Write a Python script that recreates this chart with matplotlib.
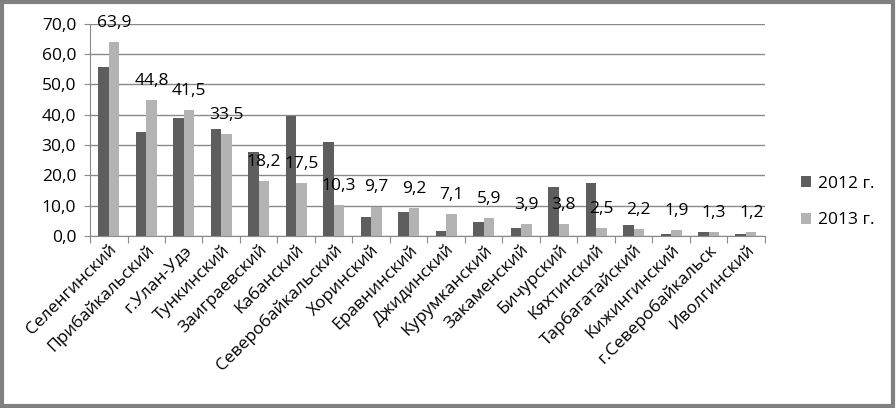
import numpy as np
import matplotlib.pyplot as plt
from matplotlib.patches import Rectangle

plt.rcParams['font.family'] = ['Open Sans', 'DejaVu Sans']

districts = ['Селенгинский', 'Прибайкальский', 'г.Улан-Удэ', 'Тункинский', 'Заиграевский',
             'Кабанский', 'Северобайкальский', 'Хоринский', 'Еравнинский', 'Джидинский',
             'Курумканский', 'Закаменский', 'Бичурский', 'Кяхтинский', 'Тарбагатайский',
             'Кижингинский', 'г.Северобайкальск', 'Иволгинский']
vals_2012 = [55.8, 34.2, 38.8, 35.2, 27.6, 39.5, 30.9, 6.3, 7.8, 1.7,
             4.7, 2.6, 16.0, 17.5, 3.7, 0.7, 1.3, 0.7]
vals_2013 = [63.9, 44.8, 41.5, 33.5, 18.2, 17.5, 10.3, 9.7, 9.2, 7.1,
             5.9, 3.9, 3.8, 2.5, 2.2, 1.9, 1.3, 1.2]
yticks = [0, 10, 20, 30, 40, 50, 60, 70]

dark = '#5e5e5e'
light = '#b3b3b3'
fs = 12.5

fig = plt.figure(figsize=(8.96, 4.08), dpi=100)
ax = fig.add_axes([0.1005, 0.4216, 0.753, 0.52])

x = np.arange(len(districts))
w = 0.28
ax.bar(x - w / 2, vals_2012, w, color=dark, label='2012 г.', zorder=3)
ax.bar(x + w / 2, vals_2013, w, color=light, label='2013 г.', zorder=3)

for xi, v in zip(x, vals_2013):
    ax.annotate(f'{v:.1f}'.replace('.', ','), (xi + w / 2, v), xytext=(0, 8),
                textcoords='offset points', ha='center', va='bottom',
                fontsize=fs, color='black', zorder=4)

ax.set_xlim(-0.5, len(districts) - 0.5)
ax.set_ylim(0, 70)
ax.set_yticks(yticks)
ax.set_yticklabels([f'{t:.1f}'.replace('.', ',') for t in yticks], fontsize=fs)
ax.yaxis.grid(True, color='#8a8a8a', linewidth=1, zorder=0)

ax.set_xticks(np.arange(len(districts) + 1) - 0.5)
ax.set_xticklabels([])
ax.set_xticks(x, minor=True)
ax.set_xticklabels(districts, minor=True, rotation=45, ha='right',
                   rotation_mode='anchor', fontsize=fs)
ax.tick_params(axis='x', which='minor', length=0, pad=4)
ax.tick_params(axis='x', which='major', length=5, color='#8a8a8a')
ax.tick_params(axis='y', length=4, color='#8a8a8a', pad=6)

for s in ['top', 'right']:
    ax.spines[s].set_visible(False)
for s in ['left', 'bottom']:
    ax.spines[s].set_color('#8a8a8a')

ax.legend(loc='center left', bbox_to_anchor=(1.03, 0.16), frameon=False,
          fontsize=fs, handlelength=0.6, handleheight=0.6, labelspacing=1.2,
          handletextpad=0.4)

fig.patches.append(Rectangle((0.002, 0.004), 0.995, 0.992, transform=fig.transFigure,
                             fill=False, edgecolor='#808080', linewidth=3))

fig.savefig('out.png', dpi=100)
